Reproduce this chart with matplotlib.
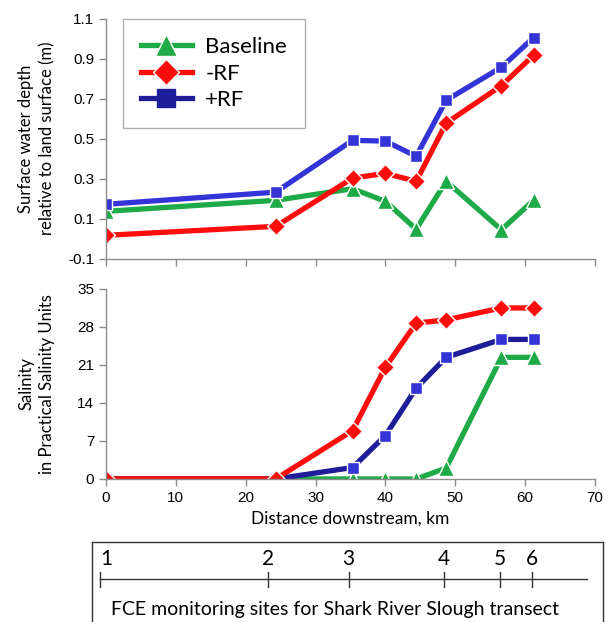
import numpy as np
import matplotlib.pyplot as plt

# distance downstream (km) of each model node
km = [0, 24.3, 35.3, 40.0, 44.4, 48.7, 56.6, 61.2]

# surface water depth relative to land surface (m)
depth_base = [0.137, 0.192, 0.250, 0.187, 0.048, 0.287, 0.045, 0.192]
depth_minus = [0.017, 0.062, 0.303, 0.327, 0.287, 0.578, 0.765, 0.917]
depth_plus = [0.172, 0.233, 0.492, 0.488, 0.412, 0.692, 0.857, 1.005]

# salinity (PSU)
sal_base = [0, 0, 0, 0, 0, 2.0, 22.4, 22.4]
sal_minus = [0, 0, 8.9, 20.6, 28.7, 29.3, 31.5, 31.5]
sal_plus = [0, 0, 2.1, 8.0, 16.7, 22.4, 25.7, 25.7]

# FCE monitoring sites along the transect
site_labels = ["1", "2", "3", "4", "5", "6"]
site_km = [-0.8, 23.2, 34.7, 48.4, 56.4, 61.0]
transect_end = 68.8

green = "#1daa47"
red = "#ff0d0d"
blue = "#3434d6"
navy = "#1d1d9a"
grey = "#8c8c8c"

plt.rcParams["font.family"] = ["Liberation Sans", "DejaVu Sans"]
lab_font = ["Lato", "DejaVu Sans"]

fig = plt.figure(figsize=(6.08, 6.22), dpi=100)
ax1 = fig.add_axes([0.1743, 0.584, 0.8043, 0.386])
ax2 = fig.add_axes([0.1743, 0.230, 0.8043, 0.3055])

lw = 3.8
ms = 10
common = dict(lw=lw, markeredgecolor="white", markeredgewidth=1.0)

# top panel: water depth
ax1.plot(km, depth_base, color=green, marker="^", ms=ms + 1, label="Baseline", **common)
ax1.plot(km, depth_minus, color=red, marker="D", ms=ms - 1, label="-RF", **common)
ax1.plot(km, depth_plus, color=blue, marker="s", ms=ms - 1, markerfacecolor=blue,
         label="+RF", **common)

# bottom panel: salinity
ax2.plot(km, sal_base, color=green, marker="^", ms=ms + 1, **common)
ax2.plot(km, sal_plus, color=navy, marker="s", ms=ms - 1, markerfacecolor=blue, **common)
ax2.plot(km, sal_minus, color=red, marker="D", ms=ms - 1, **common)

for ax in (ax1, ax2):
    ax.set_xlim(0, 70)
    ax.set_xticks(np.arange(0, 71, 10))
    for s in ("top", "right"):
        ax.spines[s].set_visible(False)
    for s in ("left", "bottom"):
        ax.spines[s].set_color(grey)
        ax.spines[s].set_linewidth(1.0)
    ax.tick_params(color=grey, length=5, width=1.0, labelsize=11, direction="out")

ax1.set_ylim(-0.1, 1.1)
ax1.set_yticks(np.arange(-0.1, 1.11, 0.2))
ax1.set_yticklabels(["-0.1", "0.1", "0.3", "0.5", "0.7", "0.9", "1.1"])
ax1.tick_params(axis="x", labelbottom=False)
ax1.set_ylabel("Surface water depth\nrelative to land surface (m)", fontsize=12,
               family=lab_font, linespacing=1.35)

ax2.set_ylim(0, 35)
ax2.set_yticks(np.arange(0, 36, 7))
ax2.set_ylabel("Salinity\nin Practical Salinity Units", fontsize=12,
               family=lab_font, linespacing=1.35)
ax2.set_xlabel("Distance downstream, km", fontsize=12.5, family=lab_font, labelpad=4)
ax1.yaxis.set_label_coords(-0.104, 0.5)
ax2.yaxis.set_label_coords(-0.104, 0.5)

leg = ax1.legend(loc="upper left", bbox_to_anchor=(0.035, 0.998), borderaxespad=0,
                 handlelength=2.3, markerscale=1.45, frameon=True, fancybox=False,
                 borderpad=0.8, labelspacing=0.3, handletextpad=0.6,
                 prop={"family": lab_font, "size": 16})
leg.get_frame().set_edgecolor("#999999")
leg.get_frame().set_linewidth(1.0)
leg.legend_handles[2].set_color(navy)
leg.legend_handles[2].set_markerfacecolor(navy)
leg.legend_handles[2].set_markeredgecolor(navy)

# site transect box (runs off the bottom edge like the original)
ax3 = fig.add_axes([0.1513, -0.0209, 0.8405, 0.1495])
ax3.set_xlim(-2.0, 71.1)
ax3.set_ylim(0, 1)
ax3.set_xticks([])
ax3.set_yticks([])
for s in ax3.spines.values():
    s.set_color("#333333")
    s.set_linewidth(1.0)
ax3.plot([site_km[0], transect_end], [0.60, 0.60], color="#333333", lw=1.0)
for lab, x in zip(site_labels, site_km):
    ax3.plot([x, x], [0.515, 0.68], color="#333333", lw=1.0)
    ax3.text(x, 0.715, lab, ha="left" if lab == "1" else "center", va="bottom",
             fontsize=15, family=lab_font)
ax3.text(0.7, 0.215, "FCE monitoring sites for Shark River Slough transect",
         ha="left", va="baseline", fontsize=14, family=lab_font)

fig.savefig("out.png", dpi=100)
